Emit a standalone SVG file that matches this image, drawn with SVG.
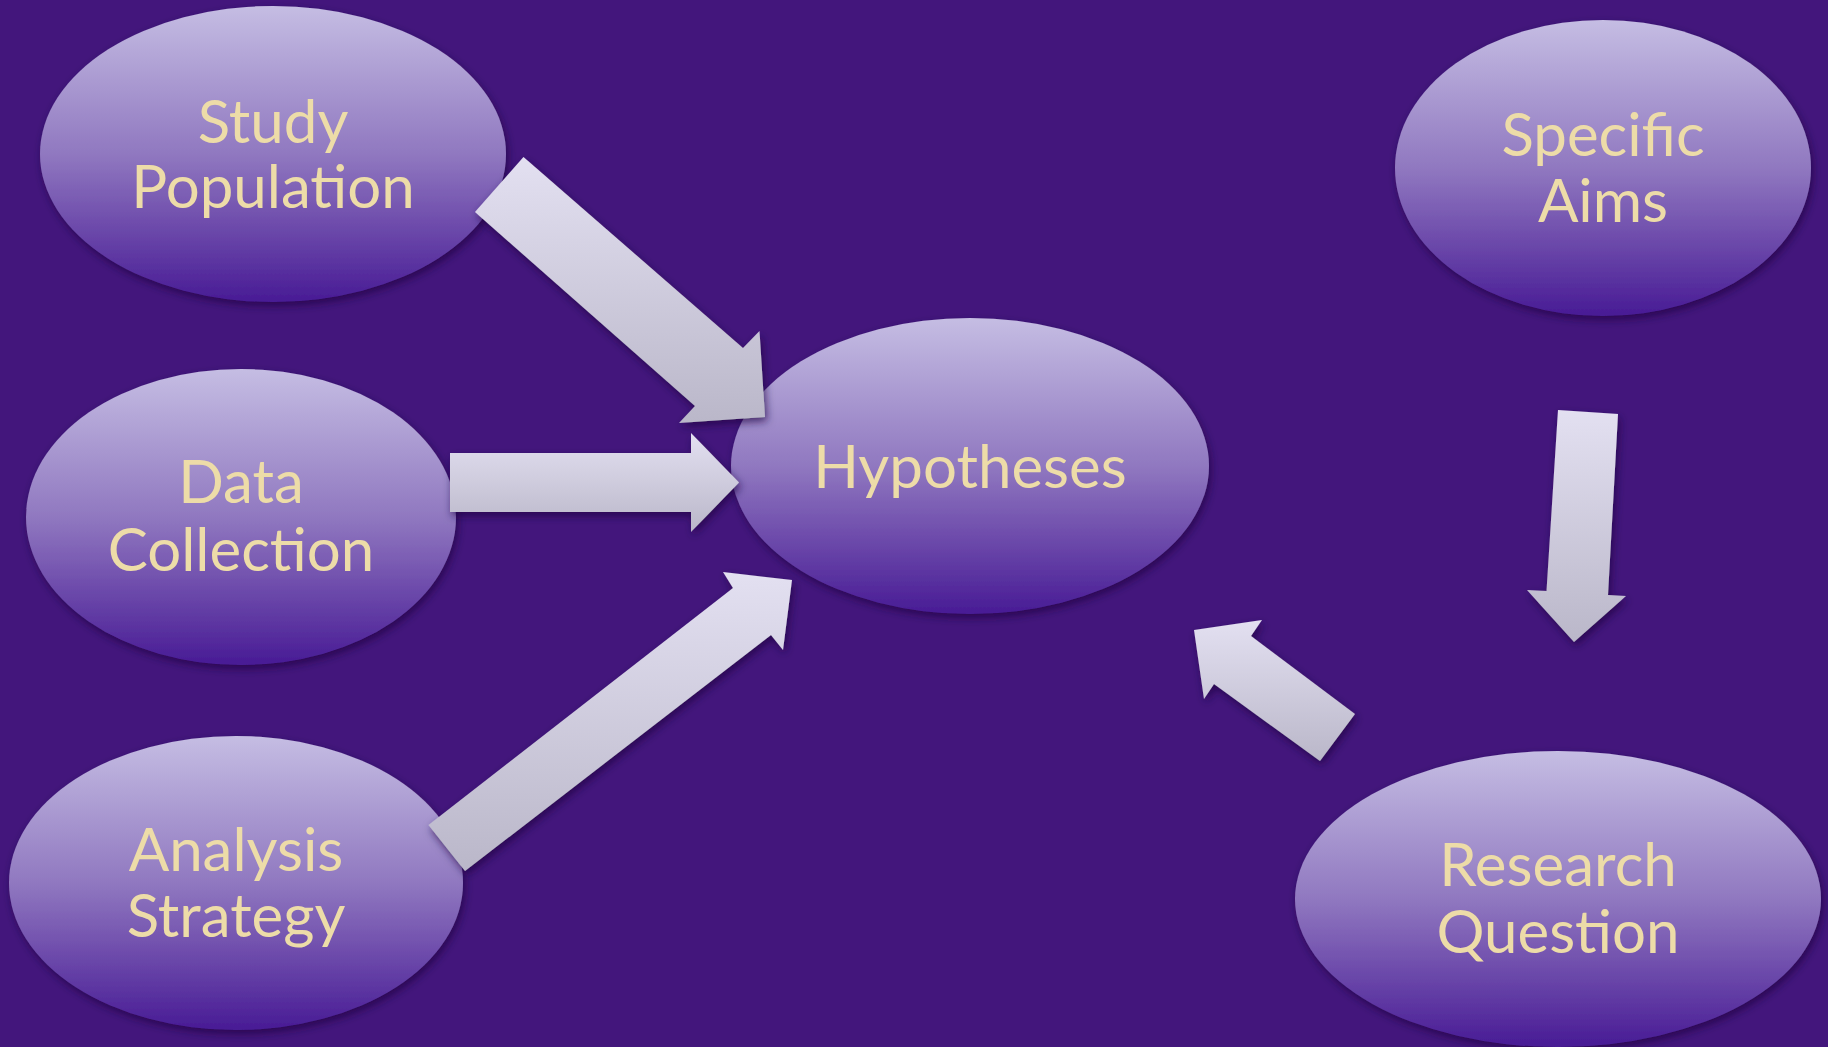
<svg xmlns="http://www.w3.org/2000/svg" width="1828" height="1047" viewBox="0 0 1828 1047">
<defs>
<linearGradient id="eg" x1="0" y1="0" x2="0" y2="1">
<stop offset="0" stop-color="#C5BDE3"/>
<stop offset="0.5" stop-color="#9078C0"/>
<stop offset="1" stop-color="#481B95"/>
</linearGradient>
<linearGradient id="ag" x1="0" y1="0" x2="0" y2="1">
<stop offset="0" stop-color="#E3E0F1"/>
<stop offset="1" stop-color="#BAB7C9"/>
</linearGradient>
<filter id="sh" x="-10%" y="-10%" width="125%" height="130%">
<feGaussianBlur in="SourceAlpha" stdDeviation="4"/>
<feOffset dx="2" dy="4" result="b"/>
<feFlood flood-color="#1E0840" flood-opacity="0.7"/>
<feComposite in2="b" operator="in"/>
<feMerge><feMergeNode/><feMergeNode in="SourceGraphic"/></feMerge>
</filter>
</defs>
<style>
.node ellipse{fill:url(#eg);filter:url(#sh)}
.node text{font-family:Lato,"Open Sans","Liberation Sans",sans-serif;font-size:60px;fill:#EDDCA8;text-anchor:middle}
.arrow{fill:url(#ag);filter:url(#sh)}
</style>
<rect width="1828" height="1047" fill="#43167C"/>
<g id="study-population" class="node">
<ellipse cx="273" cy="154" rx="233" ry="148"/>
<text x="273" y="143">Study</text>
<text x="273" y="208">Population</text>
</g>
<g id="data-collection" class="node">
<ellipse cx="241" cy="517" rx="215" ry="148"/>
<text x="241" y="503">Data</text>
<text x="241" y="571">Collection</text>
</g>
<g id="analysis-strategy" class="node">
<ellipse cx="236" cy="883" rx="227" ry="147"/>
<text x="236" y="871">Analysis</text>
<text x="236" y="937">Strategy</text>
</g>
<g id="hypotheses" class="node">
<ellipse cx="970" cy="466" rx="239" ry="148"/>
<text x="970" y="488">Hypotheses</text>
</g>
<g id="specific-aims" class="node">
<ellipse cx="1603" cy="168" rx="208" ry="148"/>
<text x="1603" y="156">Specific</text>
<text x="1603" y="222">Aims</text>
</g>
<g id="research-question" class="node">
<ellipse cx="1558" cy="899" rx="263" ry="148"/>
<text x="1558" y="886">Research</text>
<text x="1558" y="953">Question</text>
</g>
<g id="connectors">
<polygon class="arrow" points="523.5,157 743,348 759.5,331 765,417 679,423 695,406 475,212"/>
<polygon class="arrow" points="450,453 691,453 691,433 739,482.5 691,532 691,512 450,512"/>
<polygon class="arrow" points="428.5,825 733,588 723,572 792,580 783,650 771,635 465,871"/>
<polygon class="arrow" points="1558,410 1618,414 1608,595 1626,596 1574,642 1527,590 1546.5,591"/>
<polygon class="arrow" points="1355,714 1251,636 1262,620 1194,630 1204,699 1214,684 1320,761"/>
</g>
</svg>
